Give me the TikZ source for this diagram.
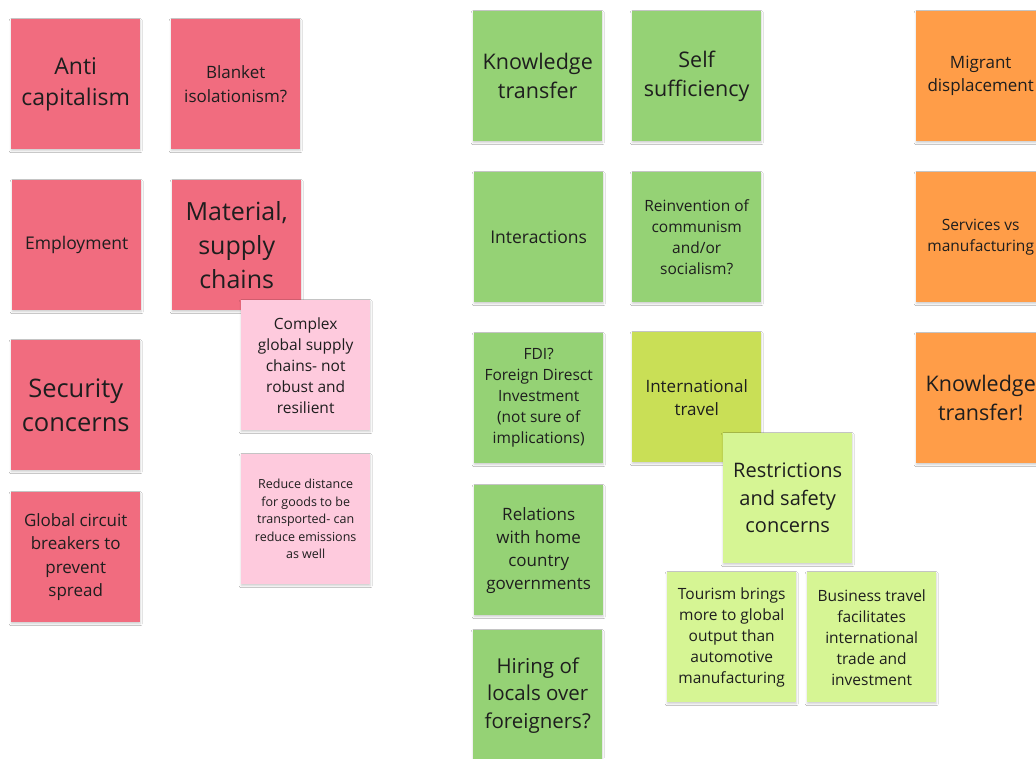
\documentclass[tikz,border=0pt]{standalone}
\usepackage{fontspec}
\setmainfont{Open Sans}
\usetikzlibrary{shadows.blur}
\definecolor{nred}{RGB}{241,108,127}
\definecolor{npink}{RGB}{254,202,221}
\definecolor{ngreen}{RGB}{149,210,117}
\definecolor{nolive}{RGB}{201,223,86}
\definecolor{nlight}{RGB}{214,245,148}
\definecolor{norange}{RGB}{255,157,72}
\definecolor{ntxt}{RGB}{30,30,30}
\newcommand\fsz[2]{\fontsize{#1}{#2}\selectfont}
\tikzset{
  note/.style={draw=none, minimum width=129pt, minimum height=130pt, anchor=north west,
    align=center, inner sep=0pt, text=ntxt,
    blur shadow={shadow xshift=0pt, shadow yshift=-1.5pt, shadow blur radius=2pt, shadow opacity=20}},
  rednote/.style={note, fill=nred},
  pinknote/.style={note, fill=npink},
  greennote/.style={note, fill=ngreen},
  olivenote/.style={note, fill=nolive},
  lightnote/.style={note, fill=nlight},
  orangenote/.style={note, fill=norange}
}
\begin{document}
\begin{tikzpicture}[x=1pt,y=-1pt]
\useasboundingbox (0,0) rectangle (1036,758);
\fill[white] (0,0) rectangle (1036,758);
% red column
\node[rednote, font=\fsz{23}{31}] (anticap) at (11,19) {Anti\\capitalism};
\node[rednote, font=\fsz{17}{24}] (blanket) at (171,19) {Blanket\\isolationism?};
\node[rednote, font=\fsz{17.5}{24}] (employ) at (12,180) {Employment};
\node[rednote, font=\fsz{25}{34}] (material) at (172,180) {Material,\\supply\\chains};
\node[rednote, font=\fsz{25.5}{34.5}] (security) at (11,340) {Security\\concerns};
\node[rednote, font=\fsz{17}{23.5}] (circuit) at (11,492) {Global circuit\\breakers to\\prevent\\spread};
% pink
\node[pinknote, font=\fsz{15.5}{21}] (complex) at (241,300) {Complex\\global supply\\chains- not\\robust and\\resilient};
\node[pinknote, font=\fsz{12.5}{17.5}] (reduce) at (241,454) {Reduce distance\\for goods to be\\transported- can\\reduce emissions\\as well};
% green
\node[greennote, font=\fsz{21.5}{29}] (knowtr) at (473,11) {Knowledge\\transfer};
\node[greennote, font=\fsz{21.5}{29}] (selfsuf) at (632,11) {Self\\sufficiency};
\node[greennote, font=\fsz{17.5}{24}] (interact) at (474,172) {Interactions};
\node[greennote, font=\fsz{15.5}{21}] (reinvent) at (632,172) {Reinvention of\\communism\\and/or\\socialism?};
\node[greennote, font=\fsz{15.5}{21}] (fdi) at (474,333) {FDI?\\Foreign Diresct\\Investment\\(not sure of\\implications)};
\node[greennote, font=\fsz{17}{23}] (relations) at (474,485) {Relations\\with home\\country\\governments};
\node[greennote, font=\fsz{20.5}{27.5}] (hiring) at (473,630) {Hiring of\\locals over\\foreigners?};
% travel
\node[olivenote, font=\fsz{17}{23}] (intltravel) at (632,332) {International\\travel};
\node[lightnote, font=\fsz{20}{27.5}] (restrict) at (723,433) {Restrictions\\and safety\\concerns};
\node[lightnote, font=\fsz{15.5}{21}] (tourism) at (667,572) {Tourism brings\\more to global\\output than\\automotive\\manufacturing};
\node[lightnote, font=\fsz{15.5}{21}] (business) at (807,572) {Business travel\\facilitates\\international\\trade and\\investment};
% orange
\node[orangenote, font=\fsz{17}{23}] (migrant) at (916,11) {Migrant\\displacement};
\node[orangenote, font=\fsz{15.5}{21}] (services) at (916,172) {Services vs\\manufacturing};
\node[orangenote, font=\fsz{21.5}{29}] (knowtr2) at (916,333) {Knowledge\\transfer!};
\end{tikzpicture}
\end{document}
